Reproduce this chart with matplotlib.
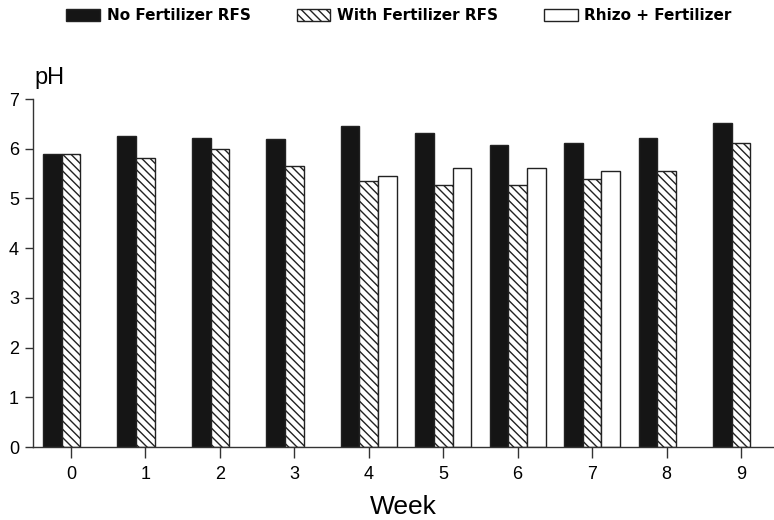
import numpy as np
import matplotlib
matplotlib.use("Agg")
import matplotlib.pyplot as plt

plt.rcParams['font.family'] = ['Liberation Sans', 'DejaVu Sans']
plt.rcParams['hatch.linewidth'] = 1.0

weeks = [0, 1, 2, 3, 4, 5, 6, 7, 8, 9]
no_fert = [5.90, 6.25, 6.22, 6.20, 6.45, 6.32, 6.08, 6.12, 6.21, 6.51]
with_fert = [5.90, 5.82, 6.00, 5.65, 5.35, 5.28, 5.28, 5.39, 5.55, 6.12]
rhizo_fert = [np.nan, np.nan, np.nan, np.nan, 5.46, 5.61, 5.61, 5.55, np.nan, np.nan]
series_labels = ["No Fertilizer RFS", "With Fertilizer RFS", "Rhizo + Fertilizer"]

fig = plt.figure(figsize=(7.74, 5.2), dpi=100)
ax = fig.add_axes([33 / 774, 1 - 447 / 520, 740 / 774, (447 - 99) / 520])

x = np.arange(len(weeks))
w = 0.25
edge = "#222222"
b1 = ax.bar(x - w, no_fert, w, color="#151515", edgecolor=edge, linewidth=1.0)
b2 = ax.bar(x, with_fert, w, color="white", edgecolor=edge, linewidth=1.0, hatch="\\\\\\\\")
b3 = ax.bar(x + w, rhizo_fert, w, color="white", edgecolor=edge, linewidth=1.0)

ax.set_xlim(-0.51, 9.43)
ax.set_ylim(0, 7)
ax.set_xticks(x)
ax.set_xticklabels([str(v) for v in weeks])
ax.set_yticks(range(0, 8))
ax.tick_params(axis="y", labelsize=13, length=6, width=1, color="#333333", pad=4)
ax.tick_params(axis="x", labelsize=13, length=8, width=1, color="#333333", pad=6)
for s in ("top", "right"):
    ax.spines[s].set_visible(False)
for s in ("left", "bottom"):
    ax.spines[s].set_color("#333333")
    ax.spines[s].set_linewidth(1.0)

ax.set_xlabel("Week", fontsize=19, labelpad=8)
fig.text(34 / 774, 1 - 78 / 520, "pH", fontsize=17, va="center", ha="left")

fig.legend([b1, b2, b3], series_labels, loc="upper left",
           bbox_to_anchor=(58 / 774, 1.0), ncol=3, frameon=False,
           prop={"family": "DejaVu Sans", "size": 11, "weight": "bold"},
           handlelength=2.2, handleheight=0.9, handletextpad=0.45,
           columnspacing=3.0, borderaxespad=0.15)

fig.savefig("out.png", dpi=100)
